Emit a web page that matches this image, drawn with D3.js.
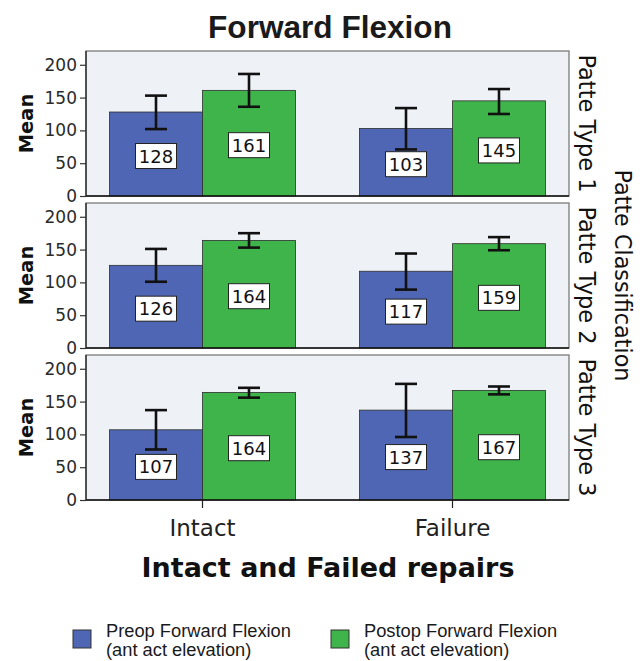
<!DOCTYPE html>
<html>
<head>
<meta charset="utf-8">
<script src="https://cdn.jsdelivr.net/npm/d3@7"></script>
<style>
  html, body { margin: 0; padding: 0; background: #ffffff; }
  svg { display: block; }
</style>
</head>
<body>
<svg id="chart" width="644" height="661"></svg>
<script>
// Forward flexion means (with error bars) by repair outcome, one panel per Patte type
const panels = ["Patte Type 1", "Patte Type 2", "Patte Type 3"];
const categories = ["Intact", "Failure"];
const seriesNames = ["Preop Forward Flexion", "Postop Forward Flexion"];
const seriesSub = "(ant act elevation)";

// rows = panels, columns = categories
const preopMean  = [[128, 103], [126, 117], [107, 137]];
const postopMean = [[161, 145], [164, 159], [164, 167]];
const preopLow   = [[102, 71], [101, 89], [77, 96]];
const preopHigh  = [[153, 134], [151, 144], [137, 177]];
const postopLow  = [[136, 125], [153, 149], [156, 161]];
const postopHigh = [[186, 163], [175, 169], [171, 173]];

const yTicks = [0, 50, 100, 150, 200];
const yMax = 221;

const colors = ["#4e66b3", "#3fb44b"];

const svg = d3.select("#chart");
const plotLeft = 86, plotRight = 569;
const panelTops = [51, 203, 355];
const panelH = 145;

const fontChart = "'DejaVu Sans', sans-serif";
const fontArial = "'Liberation Sans', Arial, sans-serif";

// shrink/grow a text element's font so its width meets a target
function fitWidth(sel, target) {
  const node = sel.node();
  const fs = parseFloat(sel.attr("font-size"));
  const w = node.getComputedTextLength();
  if (w > 0) sel.attr("font-size", (fs * target / w).toFixed(2));
  return sel;
}

const x = d3.scaleBand().domain(categories).range([plotLeft, plotRight])
  .paddingInner(0.256).paddingOuter(0.094);
const xs = d3.scaleBand().domain([0, 1]).range([0, x.bandwidth()]).padding(0);

panels.forEach((pname, pi) => {
  const top = panelTops[pi];
  const y = d3.scaleLinear().domain([0, yMax]).range([top + panelH, top]);
  const g = svg.append("g");

  // panel background and frame
  g.append("rect").attr("x", plotLeft).attr("y", top)
    .attr("width", plotRight - plotLeft).attr("height", panelH)
    .attr("fill", "#eef2f7").attr("stroke", "#7a7a7a").attr("stroke-width", 1.3);

  const rows = [
    { mean: preopMean[pi], lo: preopLow[pi], hi: preopHigh[pi] },
    { mean: postopMean[pi], lo: postopLow[pi], hi: postopHigh[pi] }
  ];

  rows.forEach((s, si) => {
    categories.forEach((cat, ci) => {
      const bx = x(cat) + xs(si);
      const bw = xs.bandwidth();
      const v = s.mean[ci];
      g.append("rect")
        .attr("x", bx).attr("y", y(v))
        .attr("width", bw).attr("height", y(0) - y(v))
        .attr("fill", colors[si]).attr("stroke", "#2e2e2e").attr("stroke-width", 0.8);

      // error bar
      const cx = bx + bw / 2;
      const cap = 11;
      const eb = g.append("g").attr("stroke", "#111").attr("stroke-width", 2.6).attr("fill", "none");
      eb.append("line").attr("x1", cx).attr("x2", cx).attr("y1", y(s.hi[ci])).attr("y2", y(s.lo[ci]));
      eb.append("line").attr("x1", cx - cap).attr("x2", cx + cap).attr("y1", y(s.hi[ci])).attr("y2", y(s.hi[ci]));
      eb.append("line").attr("x1", cx - cap).attr("x2", cx + cap).attr("y1", y(s.lo[ci])).attr("y2", y(s.lo[ci]));

      // value label in a white box at mid-bar
      const ly = (y(v) + y(0)) / 2 + 2;
      g.append("rect").attr("x", cx - 20.5).attr("y", ly - 12.5)
        .attr("width", 41).attr("height", 25)
        .attr("fill", "#ffffff").attr("stroke", "#222").attr("stroke-width", 1);
      g.append("text").attr("x", cx).attr("y", ly + 6.5)
        .attr("text-anchor", "middle").attr("font-family", fontChart)
        .attr("font-size", 18).attr("fill", "#111").text(v);
    });
  });

  // y axis
  const yAxis = d3.axisLeft(y).tickValues(yTicks).tickSize(6).tickPadding(3);
  const ya = g.append("g").attr("transform", `translate(${plotLeft},0)`).call(yAxis);
  ya.select(".domain").attr("stroke", "#222").attr("stroke-width", 1.3)
    .attr("d", `M0,${top}V${top + panelH}`);
  ya.selectAll(".tick line").attr("stroke", "#333").attr("stroke-width", 1.2);
  ya.selectAll(".tick text").attr("font-family", fontChart).attr("font-size", 17)
    .attr("fill", "#2a2a2a");

  // baseline
  g.append("line").attr("x1", plotLeft).attr("x2", plotRight)
    .attr("y1", y(0)).attr("y2", y(0)).attr("stroke", "#111").attr("stroke-width", 1.5);

  // y title
  const cy = top + panelH / 2;
  g.append("text").attr("transform", `translate(33,${cy}) rotate(-90)`)
    .attr("text-anchor", "middle").attr("font-family", fontChart)
    .attr("font-weight", "bold").attr("font-size", 19.5).attr("fill", "#111").text("Mean");

  // strip label on the right
  const st = g.append("text").attr("transform", `translate(579,${cy}) rotate(90)`)
    .attr("text-anchor", "middle").attr("font-family", fontChart)
    .attr("font-size", 18).attr("fill", "#111").text(pname);
  fitWidth(st, 138);
});

// x axis under the last panel
const lastBottom = panelTops[2] + panelH;
const xAxis = d3.axisBottom(x).tickSize(8).tickPadding(6);
const xa = svg.append("g").attr("transform", `translate(0,${lastBottom})`).call(xAxis);
xa.select(".domain").remove();
xa.selectAll(".tick line").attr("stroke", "#222").attr("stroke-width", 1.2);
xa.selectAll(".tick text").attr("font-family", fontChart).attr("font-size", 23)
  .attr("fill", "#222").attr("dy", "0.95em");

// x title
const xt = svg.append("text").attr("x", 328).attr("y", 577).attr("text-anchor", "middle")
  .attr("font-family", fontChart).attr("font-weight", "bold").attr("font-size", 24)
  .attr("fill", "#111").text("Intact and Failed repairs");
fitWidth(xt, 373);

// panel-variable title
const pc = svg.append("text").attr("transform", `translate(615,${(panelTops[0] + lastBottom) / 2}) rotate(90)`)
  .attr("text-anchor", "middle").attr("font-family", fontChart)
  .attr("font-size", 18).attr("fill", "#111").text("Patte Classification");
fitWidth(pc, 212);

// chart title
const tt = svg.append("text").attr("x", 330).attr("y", 38).attr("text-anchor", "middle")
  .attr("font-family", fontArial).attr("font-weight", "bold").attr("font-size", 31)
  .attr("fill", "#1a1a1a").text("Forward Flexion");
fitWidth(tt, 244);

// legend
const legendX = [73, 331];
seriesNames.forEach((name, i) => {
  const lg = svg.append("g").attr("transform", `translate(${legendX[i]},630)`);
  lg.append("rect").attr("width", 18).attr("height", 18)
    .attr("fill", colors[i]).attr("stroke", "#333").attr("stroke-width", 1);
  const t = lg.append("text").attr("x", 33).attr("y", 7)
    .attr("font-family", fontArial).attr("font-size", 18.3).attr("fill", "#1a1a1a");
  t.append("tspan").attr("x", 33).text(name);
  t.append("tspan").attr("x", 33).attr("dy", 19).text(seriesSub);
});
</script>
</body>
</html>
